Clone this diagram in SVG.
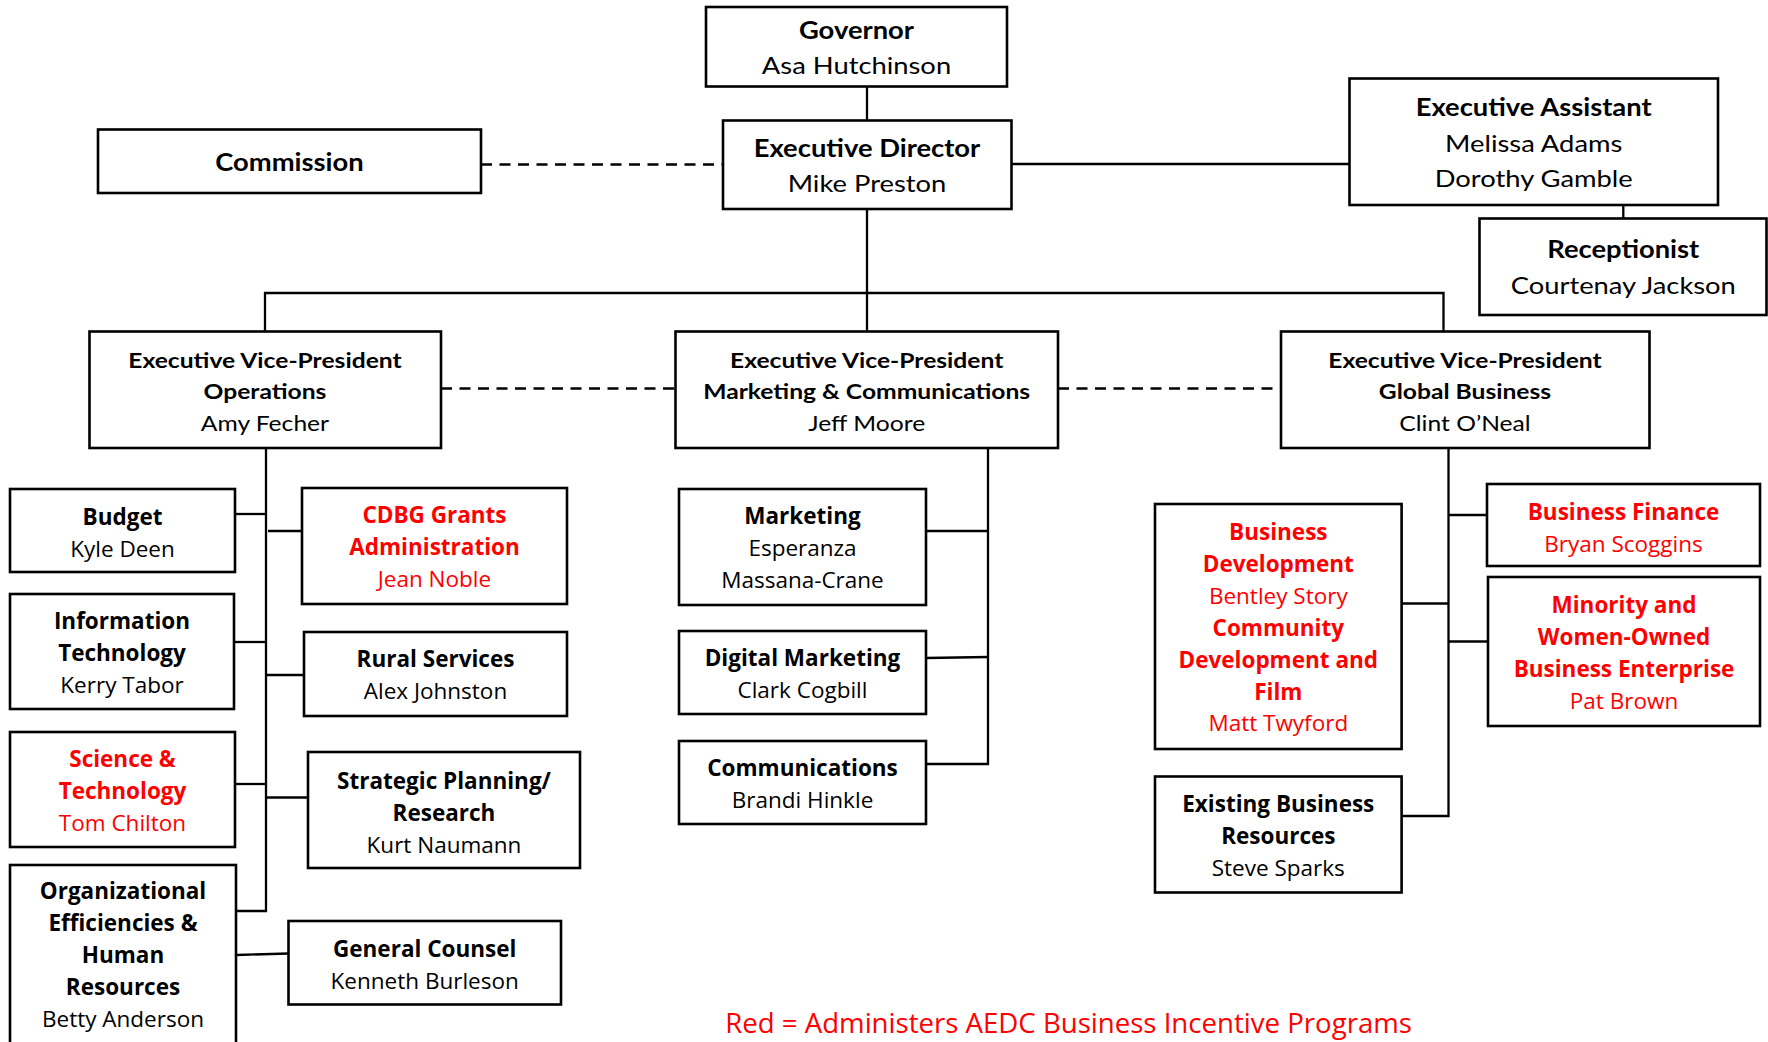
<svg xmlns="http://www.w3.org/2000/svg" width="1768" height="1042" viewBox="0 0 1768 1042">
<style>
.box{fill:#fff;stroke:#000;stroke-width:2.6}
.ln{fill:none;stroke:#000;stroke-width:2.3}
.dash{stroke-dasharray:11 7.5}
text{text-anchor:middle;fill:#000}
.a{font-family:Lato,"Liberation Sans",sans-serif;font-size:24px;transform-box:fill-box;transform-origin:center;transform:scaleX(1.14)}
.ev{font-size:21.6px}
.o{font-family:"Open Sans","Noto Sans",sans-serif;font-size:22.5px}
.lg{font-size:27.6px}
.b{font-weight:700}
.r{fill:#f00}
</style>
<rect width="1768" height="1042" fill="#fff"/>

<!-- reporting lines -->
<g id="connectors">
  <path class="ln" d="M867 86.5V120.5"/>
  <path class="ln dash" d="M481 164.5H723"/>
  <path class="ln" d="M1011.5 164H1349.5"/>
  <path class="ln" d="M1623.3 205V218.5"/>
  <path class="ln" d="M867 209V331.5"/>
  <path class="ln" d="M265 331.5V293H1443.5V331.5"/>
  <path class="ln dash" d="M441 388.5H675.5"/>
  <path class="ln dash" d="M1058 388.5H1281"/>
  <!-- operations branch -->
  <path class="ln" d="M266 448V911H236"/>
  <path class="ln" d="M235 514H266"/>
  <path class="ln" d="M234 642H266"/>
  <path class="ln" d="M235 784H266"/>
  <path class="ln" d="M268 531H302"/>
  <path class="ln" d="M266 675H304"/>
  <path class="ln" d="M266 797.5H308"/>
  <path class="ln" d="M236 955L288.5 953.5"/>
  <!-- marketing branch -->
  <path class="ln" d="M988 448V764H926"/>
  <path class="ln" d="M926 531H988"/>
  <path class="ln" d="M926 658L988 657"/>
  <!-- global business branch -->
  <path class="ln" d="M1448.5 448V816H1401.6"/>
  <path class="ln" d="M1448.5 515H1487"/>
  <path class="ln" d="M1401.6 603.5H1448.5"/>
  <path class="ln" d="M1448.5 641.5H1488"/>
</g>

<g id="governor">
  <rect class="box" x="706" y="7" width="301" height="79.5"/>
  <text class="a b" x="856.5" y="39.5">Governor</text>
  <text class="a" x="856.5" y="74">Asa Hutchinson</text>
</g>
<g id="executive-director">
  <rect class="box" x="723" y="120.5" width="288.5" height="88.5"/>
  <text class="a b" x="867" y="157">Executive Director</text>
  <text class="a" x="867" y="192">Mike Preston</text>
</g>
<g id="commission">
  <rect class="box" x="98" y="129.5" width="383" height="63.5"/>
  <text class="a b" x="289.5" y="171">Commission</text>
</g>
<g id="executive-assistant">
  <rect class="box" x="1349.5" y="78.5" width="368.5" height="126.5"/>
  <text class="a b" x="1533.7" y="116.5">Executive Assistant</text>
  <text class="a" x="1533.7" y="152">Melissa Adams</text>
  <text class="a" x="1533.7" y="187">Dorothy Gamble</text>
</g>
<g id="receptionist">
  <rect class="box" x="1479.5" y="218.5" width="287" height="96.5"/>
  <text class="a b" x="1623.3" y="258">Receptionist</text>
  <text class="a" x="1623.3" y="294.5">Courtenay Jackson</text>
</g>
<g id="evp-operations">
  <rect class="box" x="89.5" y="331.5" width="351.5" height="116.5"/>
  <text class="a ev b" x="265" y="368">Executive Vice-President</text>
  <text class="a ev b" x="265" y="399.5">Operations</text>
  <text class="a ev" x="265" y="431">Amy Fecher</text>
</g>
<g id="evp-marketing">
  <rect class="box" x="675.5" y="331.5" width="382.5" height="116.5"/>
  <text class="a ev b" x="866.7" y="368">Executive Vice-President</text>
  <text class="a ev b" x="866.7" y="399.5">Marketing &amp; Communications</text>
  <text class="a ev" x="866.7" y="431">Jeff Moore</text>
</g>
<g id="evp-global">
  <rect class="box" x="1281" y="331.5" width="368.5" height="116.5"/>
  <text class="a ev b" x="1465" y="368">Executive Vice-President</text>
  <text class="a ev b" x="1465" y="399.5">Global Business</text>
  <text class="a ev" x="1465" y="431">Clint O’Neal</text>
</g>

<g id="budget">
  <rect class="box" x="10" y="489" width="225" height="83"/>
  <text class="o b" x="122.5" y="525">Budget</text>
  <text class="o" x="122.5" y="557">Kyle Deen</text>
</g>
<g id="information-technology">
  <rect class="box" x="10" y="594" width="224" height="115"/>
  <text class="o b" x="122" y="628.5">Information</text>
  <text class="o b" x="122" y="660.5">Technology</text>
  <text class="o" x="122" y="692.5">Kerry Tabor</text>
</g>
<g id="science-technology">
  <rect class="box" x="10" y="732" width="225" height="115"/>
  <text class="o b r" x="122.5" y="766.5">Science &amp;</text>
  <text class="o b r" x="122.5" y="798.5">Technology</text>
  <text class="o r" x="122.5" y="830.5">Tom Chilton</text>
</g>
<g id="organizational-efficiencies">
  <rect class="box" x="10" y="865" width="226" height="200"/>
  <text class="o b" x="123" y="899">Organizational</text>
  <text class="o b" x="123" y="931">Efficiencies &amp;</text>
  <text class="o b" x="123" y="963">Human</text>
  <text class="o b" x="123" y="995">Resources</text>
  <text class="o" x="123" y="1027">Betty Anderson</text>
</g>
<g id="cdbg-grants">
  <rect class="box" x="302" y="488" width="265" height="116"/>
  <text class="o b r" x="434.5" y="523">CDBG Grants</text>
  <text class="o b r" x="434.5" y="555">Administration</text>
  <text class="o r" x="434.5" y="587">Jean Noble</text>
</g>
<g id="rural-services">
  <rect class="box" x="304" y="632" width="263" height="84"/>
  <text class="o b" x="435.5" y="667">Rural Services</text>
  <text class="o" x="435.5" y="699">Alex Johnston</text>
</g>
<g id="strategic-planning">
  <rect class="box" x="308" y="752" width="272" height="116"/>
  <text class="o b" x="444" y="788.5">Strategic Planning/</text>
  <text class="o b" x="444" y="820.5">Research</text>
  <text class="o" x="444" y="852.5">Kurt Naumann</text>
</g>
<g id="general-counsel">
  <rect class="box" x="288.5" y="921" width="272.5" height="83.5"/>
  <text class="o b" x="424.7" y="956.5">General Counsel</text>
  <text class="o" x="424.7" y="988.5">Kenneth Burleson</text>
</g>

<g id="marketing">
  <rect class="box" x="679" y="489" width="247" height="116"/>
  <text class="o b" x="802.5" y="524">Marketing</text>
  <text class="o" x="802.5" y="556">Esperanza</text>
  <text class="o" x="802.5" y="588">Massana-Crane</text>
</g>
<g id="digital-marketing">
  <rect class="box" x="679" y="631" width="247" height="83"/>
  <text class="o b" x="802.5" y="665.5">Digital Marketing</text>
  <text class="o" x="802.5" y="697.5">Clark Cogbill</text>
</g>
<g id="communications">
  <rect class="box" x="679" y="741" width="247" height="83"/>
  <text class="o b" x="802.5" y="775.5">Communications</text>
  <text class="o" x="802.5" y="807.5">Brandi Hinkle</text>
</g>

<g id="business-development">
  <rect class="box" x="1155" y="504" width="246.6" height="245"/>
  <text class="o b r" x="1278.3" y="540">Business</text>
  <text class="o b r" x="1278.3" y="572">Development</text>
  <text class="o r" x="1278.3" y="604">Bentley Story</text>
  <text class="o b r" x="1278.3" y="636">Community</text>
  <text class="o b r" x="1278.3" y="668">Development and</text>
  <text class="o b r" x="1278.3" y="699.5">Film</text>
  <text class="o r" x="1278.3" y="731">Matt Twyford</text>
</g>
<g id="existing-business">
  <rect class="box" x="1155" y="776.5" width="246.6" height="116"/>
  <text class="o b" x="1278.3" y="811.5">Existing Business</text>
  <text class="o b" x="1278.3" y="843.5">Resources</text>
  <text class="o" x="1278.3" y="875.5">Steve Sparks</text>
</g>
<g id="business-finance">
  <rect class="box" x="1487" y="484" width="273" height="82"/>
  <text class="o b r" x="1623.5" y="519.5">Business Finance</text>
  <text class="o r" x="1623.5" y="551.5">Bryan Scoggins</text>
</g>
<g id="minority-women-owned">
  <rect class="box" x="1488" y="577" width="272" height="149"/>
  <text class="o b r" x="1624" y="612.5">Minority and</text>
  <text class="o b r" x="1624" y="644.5">Women-Owned</text>
  <text class="o b r" x="1624" y="676.5">Business Enterprise</text>
  <text class="o r" x="1624" y="708.5">Pat Brown</text>
</g>

<text id="legend" class="o lg r" x="1068.6" y="1032.5">Red = Administers AEDC Business Incentive Programs</text>
</svg>
